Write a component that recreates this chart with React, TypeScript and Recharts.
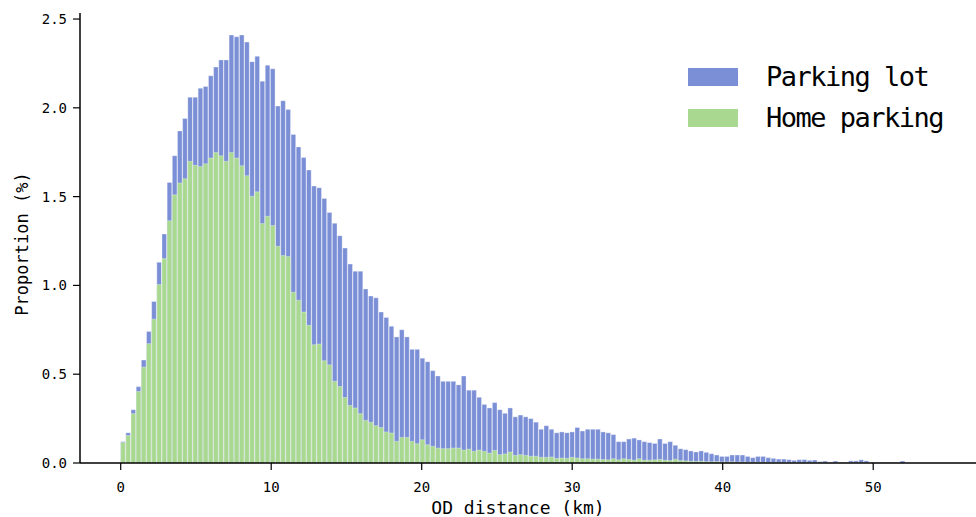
import React from 'react';
import { ComposedChart, Bar, XAxis, YAxis, Legend, Label } from 'recharts';

// Histogram bin width (km); bins start at 0
const BIN_WIDTH = 0.343;

// Proportion (%) per bin – Parking lot
const parkingLot = [
  0.12, 0.17, 0.30, 0.43, 0.58, 0.74, 0.91, 1.13, 1.29, 1.58,
  1.73, 1.87, 1.94, 2.06, 2.06, 2.11, 2.12, 2.18, 2.23, 2.27,
  2.27, 2.41, 2.40, 2.41, 2.37, 2.26, 2.29, 2.15, 2.24, 2.22,
  2.01, 2.04, 1.99, 1.85, 1.78, 1.72, 1.65, 1.56, 1.55, 1.49,
  1.41, 1.35, 1.28, 1.21, 1.12, 1.08, 1.08, 0.98, 0.94, 0.93,
  0.85, 0.82, 0.77, 0.71, 0.75, 0.71, 0.64, 0.64, 0.59, 0.57,
  0.52, 0.49, 0.46, 0.46, 0.46, 0.44, 0.49, 0.41, 0.41, 0.37,
  0.33, 0.31, 0.34, 0.30, 0.28, 0.31, 0.26, 0.27, 0.26, 0.25,
  0.23, 0.19, 0.21, 0.19, 0.17, 0.175, 0.17, 0.175, 0.20, 0.18,
  0.19, 0.19, 0.19, 0.175, 0.17, 0.16, 0.12, 0.12, 0.135, 0.14,
  0.13, 0.12, 0.115, 0.11, 0.135, 0.11, 0.12, 0.10, 0.08, 0.075,
  0.068, 0.062, 0.068, 0.060, 0.052, 0.045, 0.037, 0.037, 0.045, 0.045,
  0.045, 0.037, 0.030, 0.037, 0.037, 0.030, 0.026, 0.022, 0.022, 0.019,
  0.015, 0.019, 0.019, 0.015, 0.017, 0.008, 0.011, 0.004, 0.011, 0.003,
  0.004, 0.012, 0.012, 0.018, 0.012, 0.003, 0.002, 0.002, 0.002, 0.002,
  0.002, 0.011,
];

// Proportion (%) per bin – Home parking
const homeParking = [
  0.115, 0.155, 0.278, 0.403, 0.54, 0.672, 0.81, 1.005, 1.151, 1.364,
  1.51, 1.577, 1.601, 1.699, 1.676, 1.67, 1.685, 1.717, 1.749, 1.73,
  1.699, 1.749, 1.717, 1.674, 1.618, 1.502, 1.527, 1.348, 1.389, 1.337,
  1.22, 1.168, 1.163, 0.961, 0.916, 0.85, 0.775, 0.666, 0.67, 0.576,
  0.553, 0.46, 0.431, 0.369, 0.324, 0.31, 0.278, 0.24, 0.229, 0.21,
  0.2, 0.175, 0.169, 0.122, 0.144, 0.144, 0.122, 0.109, 0.131, 0.103,
  0.094, 0.084, 0.081, 0.081, 0.084, 0.084, 0.073, 0.078, 0.066, 0.073,
  0.066, 0.056, 0.071, 0.047, 0.051, 0.062, 0.043, 0.047, 0.043, 0.038,
  0.038, 0.032, 0.032, 0.034, 0.026, 0.028, 0.026, 0.032, 0.028, 0.024,
  0.024, 0.022, 0.022, 0.02, 0.018, 0.024, 0.018, 0.024, 0.02, 0.016,
  0.024, 0.016, 0.016, 0.018, 0.02, 0.016, 0.014, 0.021, 0.014, 0.012,
  0.01, 0.009, 0.01, 0.008, 0.007, 0.008, 0.006, 0.006, 0.007, 0.005,
  0.005, 0.004, 0.004, 0.004, 0.003, 0.003, 0.003, 0.002, 0.002, 0.002,
  0.002, 0.002, 0.001, 0.001, 0.001, 0.001, 0.001, 0.001, 0.001, 0.001,
  0.001, 0.001, 0.001, 0.001, 0.001, 0, 0, 0, 0, 0,
  0, 0,
];

const xTicks = [0, 10, 20, 30, 40, 50];
const yTicks = [0, 0.5, 1.0, 1.5, 2.0, 2.5];
const X_DOMAIN: [number, number] = [-2.704, 56.83];
const Y_DOMAIN: [number, number] = [0, 2.534];

const seriesNames = ['Parking lot', 'Home parking'];
const seriesColors = ['#7b8fd6', '#a9d991'];

const data = parkingLot.map((v, i) => ({
  x: (i + 0.5) * BIN_WIDTH,
  lot: v,
  home: homeParking[i] ?? 0,
}));

const FONT = '"DejaVu Sans Mono", monospace';
const W = 976;
const H = 517;
const MARGIN = { top: 13, right: 0, bottom: 4, left: 0 };
const Y_AXIS_W = 80;
const PLOT_W = W - Y_AXIS_W - MARGIN.left - MARGIN.right;
const BAR_PX = (BIN_WIDTH * PLOT_W) / (X_DOMAIN[1] - X_DOMAIN[0]);

const renderLegend = () => (
  <div style={{ fontFamily: FONT }}>
    {seriesNames.map((n, i) => (
      <div key={n} style={{ display: 'flex', alignItems: 'center', height: 41 }}>
        <div style={{ width: 50, height: 18, background: seriesColors[i], marginRight: 28 }} />
        <span style={{ fontSize: 27, letterSpacing: -1.5, color: '#000' }}>{n}</span>
      </div>
    ))}
  </div>
);

export default function App() {
  return (
    <div style={{ position: 'absolute', left: 0, top: 0, background: '#fff' }}>
      <ComposedChart width={W} height={H} data={data} margin={MARGIN}>
        <XAxis
          xAxisId="a"
          type="number"
          dataKey="x"
          domain={X_DOMAIN}
          ticks={xTicks}
          allowDataOverflow
          axisLine={{ stroke: '#000', strokeWidth: 1.5 }}
          tickLine={{ stroke: '#000', strokeWidth: 1.2 }}
          tickSize={7}
          tickMargin={12}
          height={50}
          tick={{ fill: '#000', fontSize: 14, fontFamily: FONT }}
        >
          <Label
            content={(props: any) => {
              const vb = props.viewBox || {};
              return (
                <text
                  x={518}
                  y={(vb.y ?? 463) + 51}
                  textAnchor="middle"
                  fontFamily={FONT}
                  fontSize={18}
                  fill="#000"
                >
                  OD distance (km)
                </text>
              );
            }}
          />
        </XAxis>
        <XAxis xAxisId="b" type="number" dataKey="x" domain={X_DOMAIN} allowDataOverflow hide />
        <YAxis
          type="number"
          domain={Y_DOMAIN}
          ticks={yTicks}
          allowDataOverflow
          width={Y_AXIS_W}
          axisLine={{ stroke: '#000', strokeWidth: 1.5 }}
          tickLine={{ stroke: '#000', strokeWidth: 1.2 }}
          tickSize={7}
          tickMargin={6}
          tickFormatter={(v: number) => v.toFixed(1)}
          tick={{ fill: '#000', fontSize: 14, fontFamily: FONT }}
        >
          <Label
            content={(props: any) => {
              const vb = props.viewBox || {};
              const cy = (vb.y ?? 13) + (vb.height ?? 450) / 2 + 6;
              return (
                <text
                  x={22}
                  y={cy}
                  textAnchor="middle"
                  dominantBaseline="central"
                  transform={`rotate(-90, 22, ${cy})`}
                  fontFamily={FONT}
                  fontSize={17}
                  fill="#000"
                >
                  Proportion (%)
                </text>
              );
            }}
          />
        </YAxis>
        <Legend
          layout="horizontal"
          verticalAlign="middle"
          align="center"
          content={renderLegend}
          wrapperStyle={{ position: 'absolute', left: 688, top: 56, width: 280 }}
        />
        <Bar
          xAxisId="a"
          dataKey="lot"
          name={seriesNames[0]}
          fill={seriesColors[0]}
          stroke="#ffffff"
          strokeOpacity={0.55}
          strokeWidth={0.6}
          barSize={BAR_PX}
          isAnimationActive={false}
        />
        <Bar
          xAxisId="b"
          dataKey="home"
          name={seriesNames[1]}
          fill={seriesColors[1]}
          stroke="#ffffff"
          strokeOpacity={0.55}
          strokeWidth={0.6}
          barSize={BAR_PX}
          isAnimationActive={false}
        />
      </ComposedChart>
    </div>
  );
}
